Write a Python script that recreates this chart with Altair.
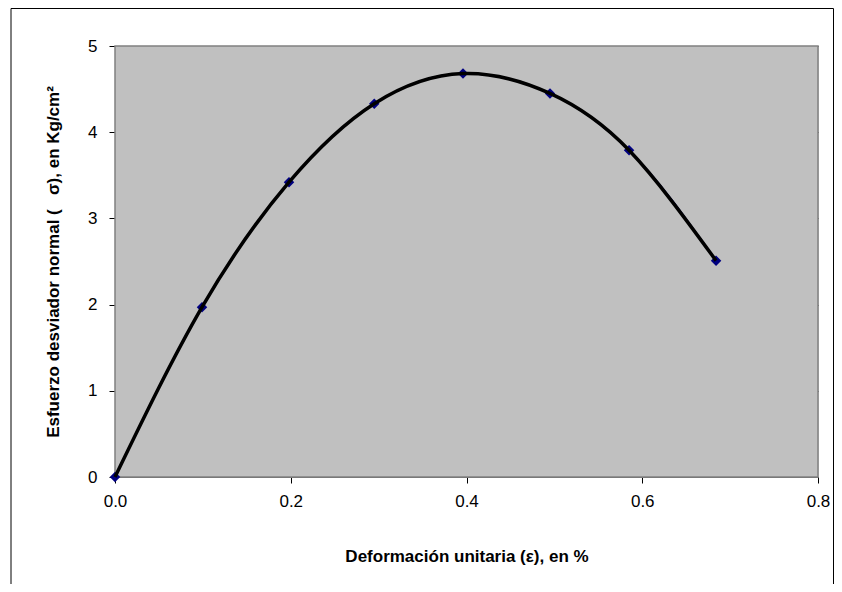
import altair as alt
import pandas as pd

deformacion = [0.0, 0.099, 0.198, 0.295, 0.396, 0.495, 0.585, 0.684]
esfuerzo = [0.0, 1.97, 3.42, 4.33, 4.68, 4.45, 3.79, 2.51]

df = pd.DataFrame({"x": deformacion, "y": esfuerzo})

W, H = 703, 431

xscale = alt.Scale(domain=[0, 0.8], nice=False, zero=False)
yscale = alt.Scale(domain=[0, 5], nice=False)

one = pd.DataFrame({"a": [0]})

bg = alt.Chart(one).mark_rect(fill="#C0C0C0", stroke="#808080", strokeWidth=1.5).encode(
    x=alt.value(0), x2=alt.value(W), y=alt.value(0), y2=alt.value(H)
)

frame = alt.Chart(one).mark_rect(
    fill=None, stroke="black", strokeWidth=1, clip=False
).encode(x=alt.value(-104), x2=alt.value(718.5), y=alt.value(-37.5), y2=alt.value(620))

axis_x = alt.Axis(
    values=[0, 0.2, 0.4, 0.6, 0.8], format=".1f", grid=False, labelFlush=False,
    title="Deformación unitaria (ε), en %", titleFontWeight="bold",
    titleFontSize=17, titleFont="Liberation Sans", titlePadding=39,
    labelFont="Liberation Sans", labelFontSize=17, labelColor="black",
    labelPadding=10, tickSize=6, tickColor="black", domainColor="#606060",
    titleColor="black",
)
axis_y = alt.Axis(
    values=[0, 1, 2, 3, 4, 5], format="d", grid=True, gridColor="black", gridWidth=1,
    labelFlush=False,
    title="Esfuerzo desviador normal (\u00a0\u00a0\u00a0σ), en Kg/cm²", titleFontWeight="bold",
    titleFontSize=17, titleFont="Liberation Sans", titlePadding=25,
    labelFont="Liberation Sans", labelFontSize=17, labelColor="black",
    labelPadding=12, tickSize=6, tickColor="black", domainColor="#606060",
    titleColor="black",
)

blue_line = alt.Chart(df).mark_line(color="#000080", strokeWidth=1.5, interpolate="monotone").encode(
    x=alt.X("x:Q", scale=xscale, axis=axis_x),
    y=alt.Y("y:Q", scale=yscale, axis=axis_y),
)
black_line = alt.Chart(df).mark_line(color="black", strokeWidth=3.5, interpolate="natural").encode(
    x=alt.X("x:Q", scale=xscale), y=alt.Y("y:Q", scale=yscale)
)
points = alt.Chart(df).mark_point(shape="diamond", filled=True, color="#000080", size=110, opacity=1).encode(
    x=alt.X("x:Q", scale=xscale), y=alt.Y("y:Q", scale=yscale)
)

chart = alt.layer(bg, blue_line, points, black_line, frame).properties(
    width=W, height=H,
    padding={"left": 107, "top": 38, "right": 16, "bottom": 107},
    autosize=alt.AutoSizeParams(type="none"),
).configure_view(stroke=None).configure(background="white")

chart.save("out.html", embed_options={"renderer": "svg", "actions": False})
